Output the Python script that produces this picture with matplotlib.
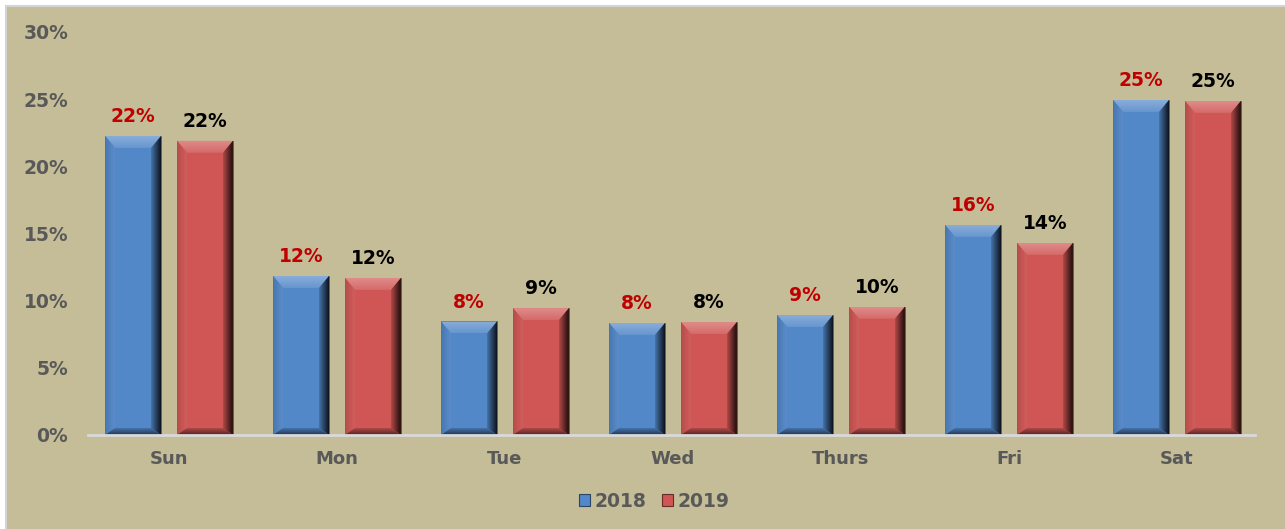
import numpy as np
import matplotlib
matplotlib.use("Agg")
import matplotlib.pyplot as plt
from matplotlib.patches import Rectangle, Polygon, Patch
from matplotlib.ticker import PercentFormatter

# data (share of the week)
days = ["Sun", "Mon", "Tue", "Wed", "Thurs", "Fri", "Sat"]
share_2018 = [0.2226, 0.1184, 0.0845, 0.0834, 0.0893, 0.1564, 0.2494]
share_2019 = [0.2190, 0.1169, 0.0945, 0.0841, 0.0955, 0.1430, 0.2487]
series_names = ["2018", "2019"]

BG = "#C4BD97"
BLUE = np.array([82, 135, 200]) / 255
RED = np.array([207, 86, 84]) / 255
GREY_TXT = "#595959"

AX_L, AX_W = 85, 1176
fig = plt.figure(figsize=(12.85, 5.29), dpi=100, facecolor="white")
fig.patches.append(Rectangle((6 / 1285, -0.1), 1.1, 1.1 - 6 / 529, transform=fig.transFigure,
                             facecolor=BG, edgecolor="#D4D4D4", lw=1.5, zorder=-5))
ax = fig.add_axes([AX_L / 1285, 1 - 435 / 529, AX_W / 1285, 403 / 529])
ax.set_facecolor("none")

x = np.arange(len(days))
w = 0.333
off = 0.214

# pixels per data unit, used for the bevel size
px_x = AX_W / len(days)
px_y = 403 / 0.30


def shade(c, f):
    # f > 0 -> towards white, f < 0 -> towards black
    c = np.asarray(c)
    if f >= 0:
        return c + (1 - c) * f
    return c * (1 + f)


def grad_fill(poly, extent, c0, c1, vertical):
    n = 64
    t = np.linspace(0, 1, n)
    cols = np.array([c0 * (1 - s) + c1 * s for s in t])
    img = cols[:, None, :] if vertical else cols[None, :, :]
    im = ax.imshow(img, extent=extent, origin="lower", aspect="auto", zorder=3,
                   interpolation="bilinear")
    im.set_clip_path(poly)


def bevel(rect, face):
    x0, y0 = rect.get_x(), rect.get_y()
    x1, y1 = x0 + rect.get_width(), y0 + rect.get_height()
    bx = 10 / px_x
    bt = 12 / px_y
    bb = 7 / px_y
    ix0, ix1, iy0, iy1 = x0 + bx, x1 - bx, y0 + bb, y1 - bt
    polys = {
        "top": [(x0, y1), (x1, y1), (ix1, iy1), (ix0, iy1)],
        "left": [(x0, y0), (ix0, iy0), (ix0, iy1), (x0, y1)],
        "right": [(x1, y0), (x1, y1), (ix1, iy1), (ix1, iy0)],
        "bottom": [(x0, y0), (x1, y0), (ix1, iy0), (ix0, iy0)],
    }
    for k, pts in polys.items():
        p = Polygon(pts, closed=True, facecolor="none", edgecolor="none", zorder=3)
        ax.add_patch(p)
        if k == "top":
            grad_fill(p, (x0, x1, iy1, y1), shade(face, 0.12), shade(face, 0.32), True)
        elif k == "left":
            grad_fill(p, (x0, ix0, y0, y1), shade(face, -0.12), shade(face, 0.05), False)
        elif k == "right":
            grad_fill(p, (ix1, x1, y0, y1), shade(face, -0.15), shade(face, -0.85), False)
        else:
            grad_fill(p, (x0, x1, y0, iy0), shade(face, -0.6), shade(face, -0.15), True)


bars18 = ax.bar(x - off, share_2018, w, color=BLUE, edgecolor=shade(BLUE, -0.3),
                lw=0.6, zorder=2)
bars19 = ax.bar(x + off, share_2019, w, color=RED, edgecolor=shade(RED, -0.3),
                lw=0.6, zorder=2)
for r in bars18:
    bevel(r, BLUE)
for r in bars19:
    bevel(r, RED)

for bars, vals, col in [(bars18, share_2018, "#C00000"), (bars19, share_2019, "black")]:
    for r, v in zip(bars, vals):
        ax.annotate(f"{v:.0%}", (r.get_x() + r.get_width() / 2, v), xytext=(0, 7),
                    textcoords="offset points", ha="center", va="bottom",
                    fontsize=13.5, fontweight="bold", color=col, zorder=5)

ax.set_xlim(-0.5, len(days) - 0.5)
ax.set_ylim(0, 0.30)
ax.set_aspect("auto")
ax.yaxis.set_major_formatter(PercentFormatter(1.0, decimals=0))
ax.set_yticks(np.arange(0, 0.31, 0.05))
ax.set_xticks(x)
ax.set_xticklabels(days)
ax.tick_params(axis="y", length=0, pad=12, labelsize=13.5, labelcolor=GREY_TXT)
ax.tick_params(axis="x", length=0, pad=11, labelsize=13, labelcolor=GREY_TXT)
for lbl in ax.get_xticklabels() + ax.get_yticklabels():
    lbl.set_fontweight("bold")
for s in ["top", "left", "right"]:
    ax.spines[s].set_visible(False)
ax.spines["bottom"].set_color("#D9D9D9")
ax.spines["bottom"].set_linewidth(2)
ax.spines["bottom"].set_zorder(4)
ax.spines["bottom"].set_bounds(-0.5 + 3 / px_x, len(days) - 0.5 - 6 / px_x)

handles = [Patch(facecolor=BLUE, edgecolor=shade(BLUE, -0.5), lw=0.8),
           Patch(facecolor=RED, edgecolor=shade(RED, -0.5), lw=0.8)]
leg = fig.legend(handles, series_names, loc="center", bbox_to_anchor=(0.509, 0.052),
                 ncol=2, frameon=False, handlelength=0.6, handleheight=0.6,
                 handletextpad=0.25, columnspacing=0.8,
                 prop={"size": 13.5, "weight": "bold"})
for t in leg.get_texts():
    t.set_color(GREY_TXT)

fig.savefig("out.png", dpi=100, facecolor=fig.get_facecolor())
